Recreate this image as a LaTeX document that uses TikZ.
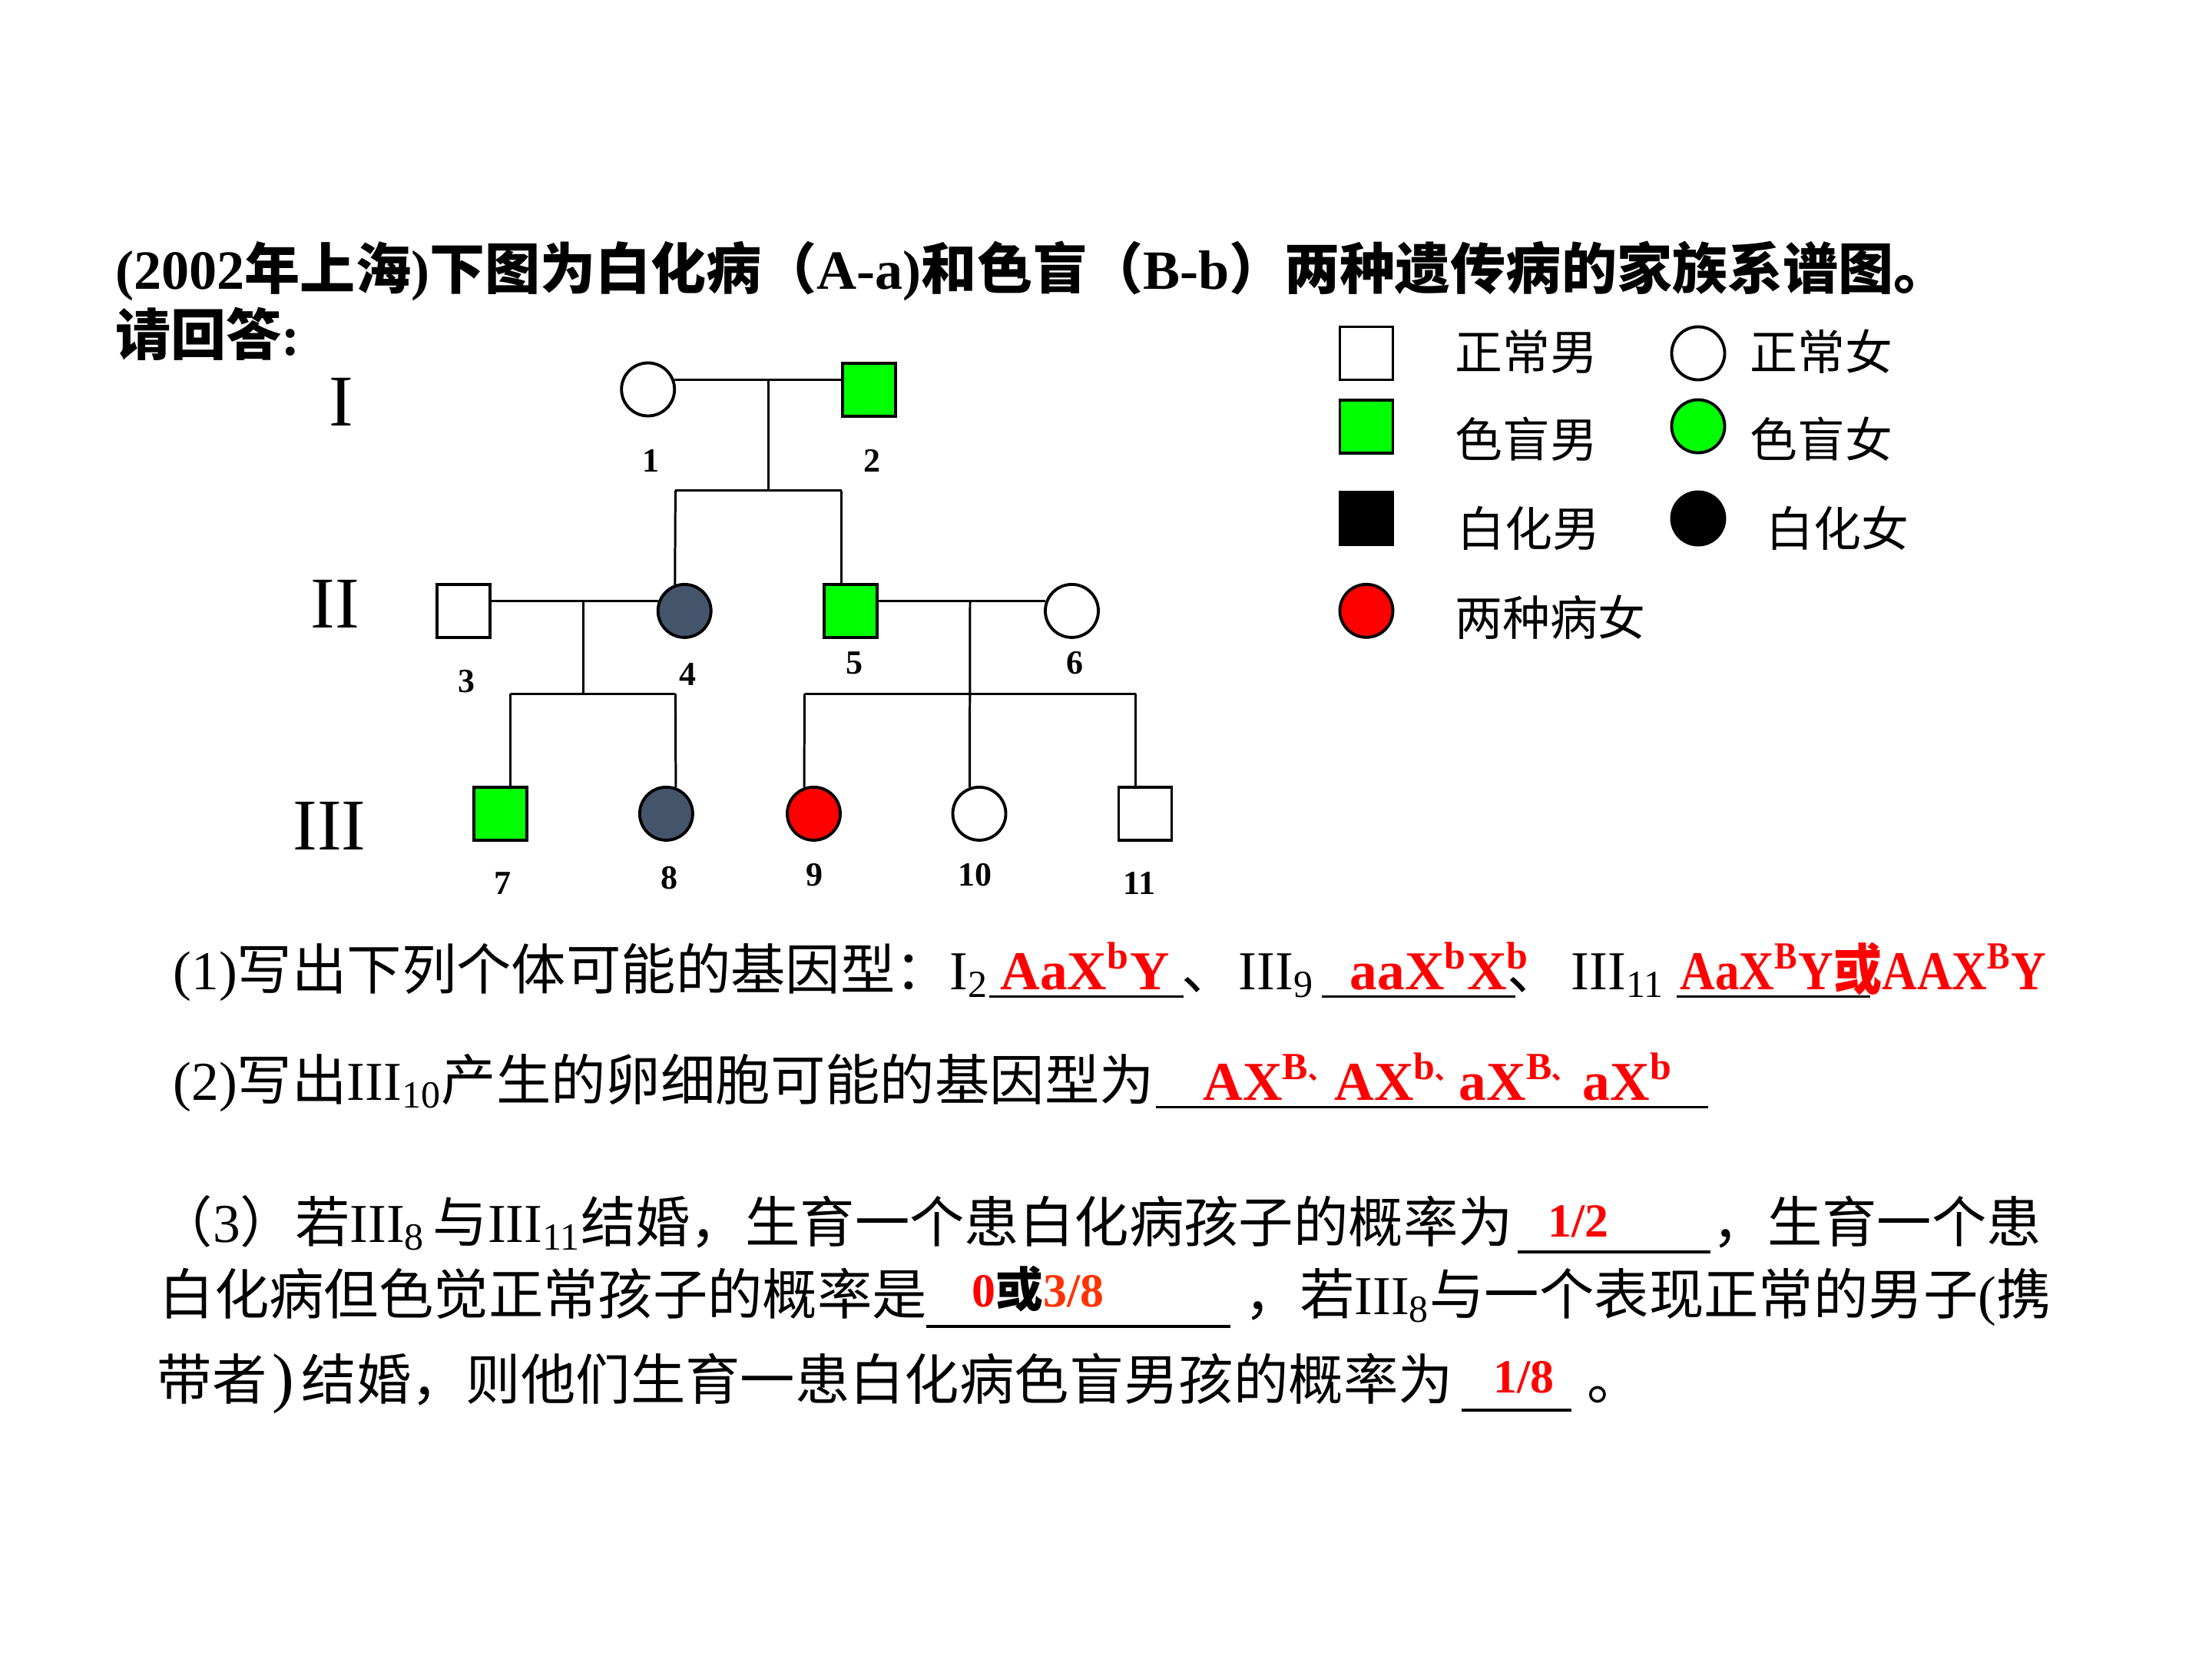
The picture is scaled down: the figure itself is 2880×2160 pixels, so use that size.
\documentclass[tikz,border=0pt]{standalone}
\usepackage{fontspec}
\setmainfont{Liberation Serif}
\newfontfamily\cjk{Noto Sans CJK SC}
\newcommand\C[1]{{\cjk #1}}
\newcommand\dun{\scalebox{0.6}{\cjk 、}}
\definecolor{cbgreen}{HTML}{00FF00}
\definecolor{slate}{HTML}{44546A}
\definecolor{ansred}{HTML}{FF0000}
\definecolor{ansorange}{HTML}{FF3300}
\begin{document}
\begin{tikzpicture}[x=0.01cm,y=-0.01cm,
  lw/.style={line width=0.85pt},
  male/.style={draw,line width=1.1pt,rectangle,minimum size=0.69cm,inner sep=0pt},
  female/.style={draw,line width=1.1pt,circle,minimum size=0.69cm,inner sep=0pt},
  num/.style={font=\fontsize{12.5}{14}\selectfont\bfseries,inner sep=0pt},
  gen/.style={font=\fontsize{27}{30}\selectfont,inner sep=0pt},
  leg/.style={font=\fontsize{17.6}{20}\selectfont\cjk,anchor=west,inner sep=0pt},
  txt/.style={font=\fontsize{20.3}{24}\selectfont,anchor=base west,inner sep=0pt},
  ttl/.style={txt,font=\fontsize{20.5}{24}\selectfont\bfseries},
  ans/.style={txt,font=\fontsize{20.3}{24}\selectfont\bfseries,text=ansred},
  ans3/.style={txt,font=\fontsize{17.6}{20}\selectfont\bfseries,text=ansred},
  uline/.style={line width=1pt}
]
\fill[white] (0,0) rectangle (2880,2160);
\useasboundingbox (0,0) rectangle (2880,2160);

% title
\node[ttl] (title1) at (150,376) {(2002\C{年上海})\C{下图为白化病（}A-a)\C{和色盲（}B-b\C{）两种遗传病的家族系谱图。}};
\node[ttl] (title2) at (150,462) {\C{请回答}:};

% generation labels
\node[gen] (gI) at (444,523) {I};
\node[gen] (gII) at (436,786) {II};
\node[gen] (gIII) at (429,1075) {III};

% generation I
\node[female] (I1) at (843.7,507) {};
\node[male,fill=cbgreen] (I2) at (1131.5,507.5) {};
\coordinate (m1) at (1000,495.2);
\coordinate (s1m) at (1000,638.5);
\coordinate (s1a) at (879.4,638.5);
\coordinate (s1b) at (1095.5,638.5);

% generation II
\node[male] (II3) at (603.3,795.4) {};
\node[female,fill=slate] (II4) at (891.2,795.4) {};
\node[male,fill=cbgreen] (II5) at (1107.7,795.4) {};
\node[female] (II6) at (1395.5,795.4) {};
\coordinate (m2) at (759.5,783.6);
\coordinate (s2m) at (759.5,903);
\coordinate (s2a) at (664.6,903);
\coordinate (s2b) at (879.4,903);
\coordinate (m3) at (1263,783.6);
\coordinate (s3a) at (1047.5,903);
\coordinate (s3b) at (1478.9,903);

% generation III
\node[male,fill=cbgreen] (III7) at (651.5,1059.4) {};
\node[female,fill=slate] (III8) at (867.4,1059.4) {};
\node[female,fill=ansred] (III9) at (1059.5,1059.4) {};
\node[female] (III10) at (1275,1059.4) {};
\node[male] (III11) at (1491,1059.4) {};

% connectors
\draw[lw] (I1.20) -- (I1.20 -| I2.west);
\draw[lw] (m1) -- (s1m);
\draw[lw] (s1a) -- (s1b);
\draw[lw] (s1a) -- (II4.110);
\draw[lw] (s1b) -- (s1b |- II5.north);
\draw[lw] (II3.east |- II4.160) -- (II4.160);
\draw[lw] (m2) -- (s2m);
\draw[lw] (s2a) -- (s2b);
\draw[lw] (s2a) -- (s2a |- III7.north);
\draw[lw] (s2b) -- (III8.70);
\draw[lw] (II5.east |- II6.160) -- (II6.160);
\draw[lw] (m3) -- (III10.110);
\draw[lw] (s3a) -- (s3b);
\draw[lw] (s3a) -- (III9.110);
\draw[lw] (s3b) -- (s3b |- III11.north);

% numbers
\node[num] (n1) at (847.5,600) {1};
\node[num] (n2) at (1135,600) {2};
\node[num] (n3) at (607,887) {3};
\node[num] (n4) at (895.7,877.6) {4};
\node[num] (n5) at (1112,863) {5};
\node[num] (n6) at (1399,863) {6};
\node[num] (n7) at (654.6,1150) {7};
\node[num] (n8) at (871,1143) {8};
\node[num] (n9) at (1060,1139) {9};
\node[num] (n10) at (1269,1139) {10};
\node[num] (n11) at (1483.5,1150) {11};

% legend
\node[male] (L1) at (1779,460) {};
\node[leg] (L1t) at (1894,457.5) {正常男};
\node[female] (L2) at (2211,460) {};
\node[leg] (L2t) at (2278,457.5) {正常女};
\node[male,fill=cbgreen] (L3) at (1779,555.3) {};
\node[leg] (L3t) at (1894,572) {色盲男};
\node[female,fill=cbgreen] (L4) at (2211,555) {};
\node[leg] (L4t) at (2278,572) {色盲女};
\node[male,fill=black] (L5) at (1779,675) {};
\node[leg] (L5t) at (1897,688) {白化男};
\node[female,fill=black] (L6) at (2211,675) {};
\node[leg] (L6t) at (2299,688) {白化女};
\node[female,fill=ansred] (L7) at (1779,795.3) {};
\node[leg] (L7t) at (1894,804) {两种病女};

% question (1)
\node[txt] (q1) at (225,1288) {(1)\C{写出下列个体可能的基因型：}I\textsubscript{2}};
\draw[uline] (1288,1297.7) -- (1541,1297.7);
\node[ans] (a1) at (1302,1288) {AaX\textsuperscript{b}Y};
\node[txt] (q1b) at (1538,1288) {\C{、}};
\node[txt] (q1c) at (1612,1288) {III\textsubscript{9}};
\draw[uline] (1721,1297.7) -- (1973,1297.7);
\node[ans] (a2) at (1757,1288) {aaX\textsuperscript{b}X\textsuperscript{b}};
\node[txt] (q1d) at (1962,1288) {\C{、}};
\node[txt] (q1e) at (2045,1288) {III\textsubscript{11}};
\draw[uline] (2183,1297.7) -- (2435,1297.7);
\node[ans] (a3) at (2187,1288) {\scalebox{0.885}[1]{AaX\textsuperscript{B}Y\C{或}AAX\textsuperscript{B}Y}};

% question (2)
\node[txt] (q2) at (225,1432) {(2)\C{写出}III\textsubscript{10}\C{产生的卵细胞可能的基因型为}};
\draw[uline] (1505,1441.7) -- (2224,1441.7);
\node[ans] (a4) at (1566,1432) {\makebox[1.71cm][l]{AX\textsuperscript{B\dun}}\makebox[1.62cm][l]{AX\textsuperscript{b\dun}}\makebox[1.61cm][l]{aX\textsuperscript{B\dun}}aX\textsuperscript{b}};

% question (3)
\node[txt] (q3) at (205,1617) {\C{（}3\C{）若}III\textsubscript{8}\hspace{0.1cm}\C{与}III\textsubscript{11}\C{结婚，生育一个患白化病孩子的概率为}};
\draw[uline] (1976,1630) -- (2227,1630);
\node[ans3] (a5) at (2015,1610) {1/2};
\node[txt] (q3b) at (2229,1617) {\C{，生育一个患}};

\node[txt] (q3c) at (207,1711) {\C{白化病但色觉正常孩子的概率是}};
\draw[uline] (1206,1727) -- (1602,1727);
\node[ans3] (a6) at (1265,1701) {0\textcolor{black}{\C{或}}\textcolor{ansorange}{3/8}};
\node[txt] (q3d) at (1620,1711) {\C{，若}III\textsubscript{8}\C{与一个表现正常的男子}(\C{携}};

\node[txt] (q3e) at (204,1822) {\C{带者}};
\node[txt,font=\fontsize{24.5}{26}\selectfont] (q3p) at (354,1822) {)};
\node[txt] (q3f) at (392,1822) {\C{结婚，则他们生育一患白化病色盲男孩的概率为}};
\draw[uline] (1902.6,1836) -- (2046,1836);
\node[ans3] (a7) at (1944,1813) {1/8};
\node[txt] (q3g) at (2066,1822) {\C{。}};
\end{tikzpicture}
\end{document}
